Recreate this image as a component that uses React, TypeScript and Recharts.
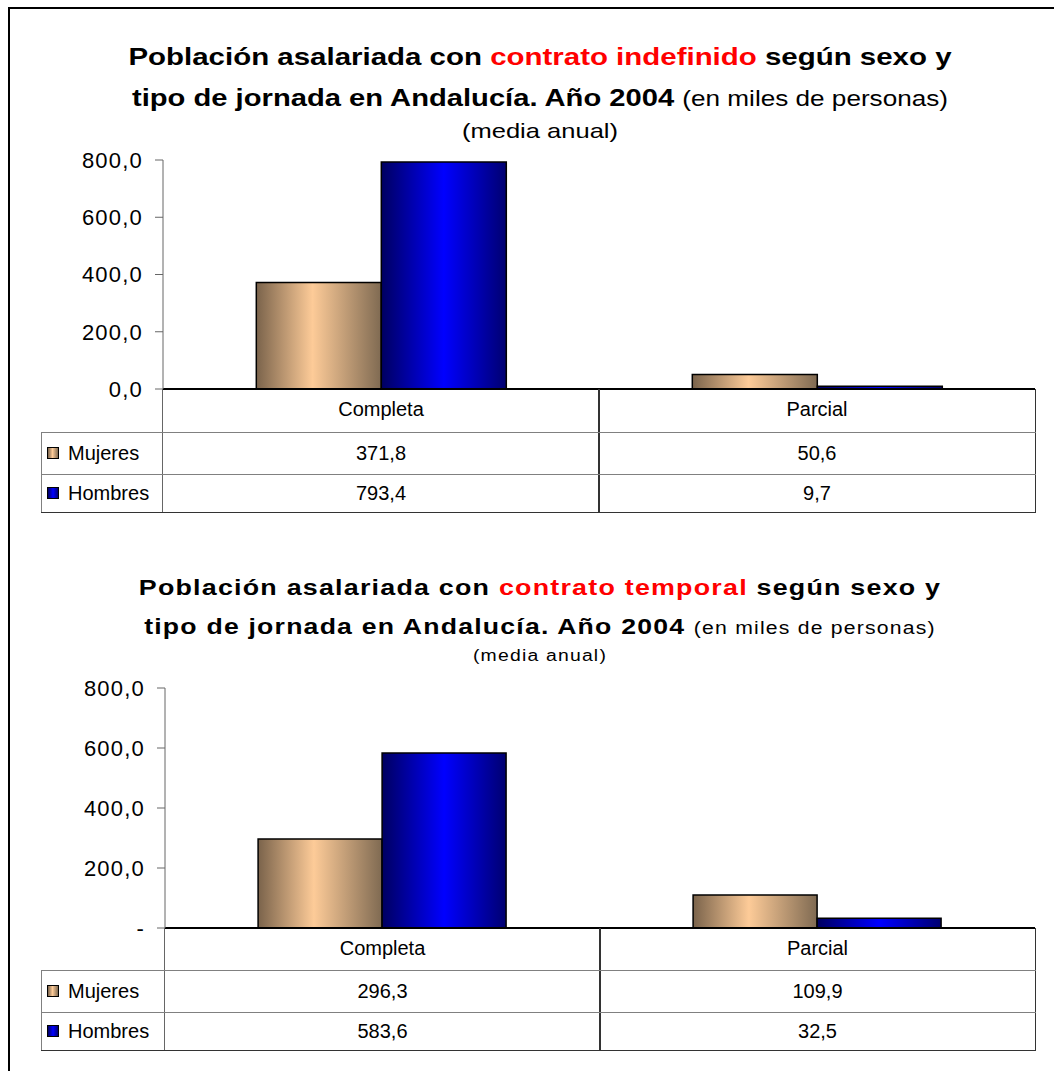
import { BarChart, Bar, XAxis, YAxis } from 'recharts';

const categories = ['Completa', 'Parcial'];
const seriesNames = ['Mujeres', 'Hombres'];
const indefMujeres = [371.8, 50.6];
const indefHombres = [793.4, 9.7];
const tempMujeres = [296.3, 109.9];
const tempHombres = [583.6, 32.5];
const yTicks = [0, 200, 400, 600, 800];

const FONT = 'Arial, "Liberation Sans", sans-serif';
const LINE = '#808080';

const fmt = (v: number) => v.toFixed(1).replace('.', ',');

const swatch = {
  Mujeres: 'linear-gradient(to right, #7a634b, #fdcb98 45%, #7f6a52)',
  Hombres: 'linear-gradient(to right, #000060, #0000ff 50%, #000070)',
};

function Gradients({ id }: { id: string }) {
  return (
    <defs>
      <linearGradient id={`muj-${id}`} x1="0" y1="0" x2="1" y2="0">
        <stop offset="0%" stopColor="#7a634b" />
        <stop offset="45%" stopColor="#fdcb98" />
        <stop offset="100%" stopColor="#7f6a52" />
      </linearGradient>
      <linearGradient id={`hom-${id}`} x1="0" y1="0" x2="1" y2="0">
        <stop offset="0%" stopColor="#000060" />
        <stop offset="50%" stopColor="#0000ff" />
        <stop offset="100%" stopColor="#000070" />
      </linearGradient>
    </defs>
  );
}

function VLine({ x, y1, y2, color = LINE, w = 1 }: any) {
  return <div style={{ position: 'absolute', left: x, top: y1, width: w, height: y2 - y1, background: color }} />;
}
function HLine({ y, x1, x2, color = LINE, w = 1 }: any) {
  return <div style={{ position: 'absolute', left: x1, top: y, width: x2 - x1, height: w, background: color }} />;
}

interface BlockProps {
  id: string;
  top: number; // top of svg
  plotTop: number;
  axisY: number;
  axisX: number;
  right: number;
  rowH: number[];
  mujeres: number[];
  hombres: number[];
  zeroLabel: string;
}

function Block({ id, top, plotTop, axisY, axisX, right, rowH, mujeres, hombres, zeroLabel }: BlockProps) {
  const data = categories.map((c, i) => ({ cat: c, Mujeres: mujeres[i], Hombres: hombres[i] }));
  const headerH = rowH[0];
  const svgH = axisY + headerH - top;
  const midX = axisX + (right - axisX) / 2;
  const tableLeft = 41;
  const rowTops = [axisY + headerH, axisY + headerH + rowH[1]];
  const rowBottom = rowTops[1] + rowH[2];
  const values = [mujeres, hombres];

  return (
    <>
      <div style={{ position: 'absolute', left: 0, top }}>
        <BarChart
          width={1054}
          height={svgH}
          data={data}
          margin={{ top: plotTop - top, right: 1054 - right, bottom: 0, left: 0 }}
          barCategoryGap="21.4%"
          barGap={0}
        >
          <Gradients id={id} />
          <XAxis
            dataKey="cat"
            height={headerH}
            tickLine={false}
            tickSize={0}
            tickMargin={13}
            axisLine={{ stroke: '#000', strokeWidth: 2 }}
            tick={{ fill: '#000', fontSize: 20, fontFamily: FONT }}
          />
          <YAxis
            width={axisX}
            domain={[0, 800]}
            ticks={yTicks}
            interval={0}
            tickSize={8}
            tickMargin={12}
            axisLine={{ stroke: '#666' }}
            tickLine={{ stroke: '#666' }}
            tick={{ fill: '#000', fontSize: 22, fontFamily: FONT, letterSpacing: 1.2 }}
            tickFormatter={(v: number) => (v === 0 ? zeroLabel : fmt(v))}
          />
          <Bar dataKey="Mujeres" fill={`url(#muj-${id})`} stroke="#000" strokeWidth={1.5} isAnimationActive={false} />
          <Bar dataKey="Hombres" fill={`url(#hom-${id})`} stroke="#000" strokeWidth={1.5} isAnimationActive={false} />
        </BarChart>
      </div>
      {/* data table */}
      <VLine x={axisX - 1} y1={axisY} y2={rowBottom} color="#666" />
      <VLine x={midX - 1} y1={axisY} y2={rowBottom} color="#333" w={2} />
      <VLine x={right} y1={axisY} y2={rowBottom} color="#333" />
      <VLine x={tableLeft} y1={rowTops[0]} y2={rowBottom} />
      <HLine y={rowTops[0]} x1={tableLeft} x2={right + 1} />
      <HLine y={rowTops[1]} x1={tableLeft} x2={right + 1} />
      <HLine y={rowBottom} x1={tableLeft} x2={right + 1} color="#333" />
      {seriesNames.map((name, r) => (
        <div key={name}>
          <div
            style={{
              position: 'absolute', left: tableLeft + 6, top: rowTops[r] + rowH[r + 1] / 2 - 6,
              width: 10, height: 10, border: '1px solid #000', background: (swatch as any)[name],
            }}
          />
          <div
            style={{
              position: 'absolute', left: tableLeft + 27, top: rowTops[r], height: rowH[r + 1],
              lineHeight: `${rowH[r + 1]}px`, fontSize: 20, fontFamily: FONT,
            }}
          >
            {name}
          </div>
          {categories.map((c, i) => (
            <div
              key={c}
              style={{
                position: 'absolute', left: i === 0 ? axisX : midX, width: midX - axisX, top: rowTops[r],
                height: rowH[r + 1], lineHeight: `${rowH[r + 1]}px`, textAlign: 'center', fontSize: 20, fontFamily: FONT,
              }}
            >
              {fmt(values[r][i])}
            </div>
          ))}
        </div>
      ))}
    </>
  );
}

function Title({ top, red, size, smallSize, mediaSize, gaps, spacing, scales }: any) {
  const base: any = {
    position: 'absolute', left: 26, width: 1028, textAlign: 'center', fontFamily: FONT,
    whiteSpace: 'nowrap', letterSpacing: spacing, transformOrigin: '50% 50%',
  };
  return (
    <>
      <div style={{ ...base, top, fontSize: size, fontWeight: 'bold', transform: `scaleX(${scales[0]})` }}>
        Población asalariada con <span style={{ color: '#ff0000' }}>{red}</span> según sexo y
      </div>
      <div style={{ ...base, top: top + gaps[0], fontSize: size, transform: `scaleX(${scales[1]})` }}>
        <b>tipo de jornada en Andalucía. Año 2004</b> <span style={{ fontSize: smallSize }}>(en miles de personas)</span>
      </div>
      <div style={{ ...base, top: top + gaps[1], fontSize: mediaSize, transform: `scaleX(${scales[2]})` }}>(media anual)</div>
    </>
  );
}

export default function App() {
  return (
    <div style={{ position: 'absolute', left: 0, top: 0, width: 1054, height: 1076, background: '#fff', overflow: 'hidden', fontFamily: FONT }}>
      <div style={{ position: 'absolute', left: 8, top: 7, width: 1100, height: 1062, borderLeft: '2px solid #000', borderTop: '2px solid #000' }} />
      <Title top={43} red="contrato indefinido" size={24} smallSize={21.5} mediaSize={21} gaps={[41, 76]} spacing={0} scales={[1.227, 1.215, 1.215]} />
      <Block id="a" top={140} plotTop={160} axisY={389} axisX={163} right={1035} rowH={[43, 42, 38]} mujeres={indefMujeres} hombres={indefHombres} zeroLabel="0,0" />
      <Title top={575} red="contrato temporal" size={22} smallSize={17.5} mediaSize={16} gaps={[39, 72]} spacing={1} scales={[1.22, 1.21, 1.21]} />
      <Block id="b" top={670} plotTop={688} axisY={928} axisX={165} right={1035} rowH={[42, 42, 38]} mujeres={tempMujeres} hombres={tempHombres} zeroLabel="-" />
    </div>
  );
}
